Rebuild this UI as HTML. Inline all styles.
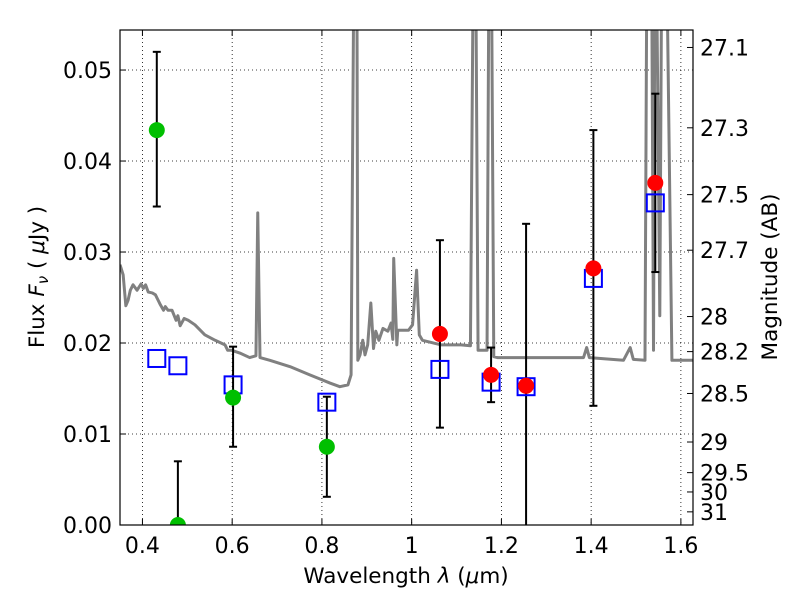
<!DOCTYPE html>
<html><head><meta charset="utf-8"><style>
body{margin:0;background:#fff;}
svg{display:block;font-family:"DejaVu Sans","Liberation Sans",sans-serif;}
</style></head><body>
<svg id="chart" width="800" height="600" viewBox="0 0 800 600" xmlns="http://www.w3.org/2000/svg">
<rect x="0" y="0" width="800" height="600" fill="#fff"/>
<g id="grid"></g>
<g id="plot"></g>
<g id="axes"></g>
<text x="406" y="583" font-size="21.5" text-anchor="middle">Wavelength  <tspan font-style="italic">λ</tspan> (<tspan font-style="italic">μ</tspan>m)</text>
<text transform="translate(44,277) rotate(-90)" font-size="21.5" text-anchor="middle">Flux  <tspan font-style="italic">F<tspan font-size="15" dy="4">ν</tspan></tspan><tspan dy="-4">  ( </tspan><tspan font-style="italic">μ</tspan>Jy )</text>
<text transform="translate(777,277) rotate(-90)" font-size="21.5" text-anchor="middle">Magnitude (AB)</text>
</svg>
<script>
const xTicks=[0.4,0.6,0.8,1.0,1.2,1.4,1.6];
const xTickLabels=["0.4","0.6","0.8","1","1.2","1.4","1.6"];
const yTicks=[0,0.01,0.02,0.03,0.04,0.05];
const yTickLabels=["0.00","0.01","0.02","0.03","0.04","0.05"];
const magTicks=[27.1,27.3,27.5,27.7,28,28.2,28.5,29,29.5,30,31];
const magTickLabels=["27.1","27.3","27.5","27.7","28","28.2","28.5","29","29.5","30","31"];
const specWave=[0.35,0.357,0.363,0.368,0.373,0.379,0.388,0.397,0.402,0.407,0.413,0.422,0.429,0.435,0.44,0.447,0.451,0.457,0.466,0.475,0.479,0.484,0.493,0.502,0.517,0.539,0.562,0.584,0.59,0.599,0.617,0.639,0.653,0.657,0.662,0.684,0.729,0.773,0.818,0.84,0.858,0.865,0.871,0.878,0.88,0.885,0.891,0.896,0.902,0.909,0.915,0.92,0.927,0.936,0.947,0.954,0.958,0.96,0.967,0.969,0.971,0.993,1.002,1.011,1.017,1.024,1.04,1.065,1.11,1.131,1.137,1.143,1.148,1.168,1.172,1.178,1.183,1.191,1.204,1.226,1.293,1.383,1.39,1.396,1.472,1.487,1.494,1.52,1.524,1.535,1.539,1.542,1.546,1.553,1.557,1.561,1.569,1.58,1.587,1.591,1.626];
const specFlux=[0.0286,0.0275,0.0241,0.0247,0.0258,0.0264,0.0258,0.0265,0.026,0.0264,0.0256,0.0255,0.0253,0.0247,0.0242,0.0236,0.024,0.0236,0.0236,0.0225,0.023,0.0219,0.0227,0.0225,0.022,0.0209,0.0203,0.0198,0.0192,0.0192,0.0189,0.0184,0.0186,0.0343,0.0184,0.0181,0.0174,0.0165,0.0156,0.0152,0.0154,0.0165,0.06,0.06,0.0181,0.0187,0.0203,0.0187,0.0198,0.0244,0.0194,0.0213,0.0203,0.0216,0.0213,0.0222,0.0204,0.0293,0.0198,0.0214,0.0214,0.0214,0.022,0.028,0.0209,0.0203,0.0201,0.0198,0.0198,0.0197,0.06,0.06,0.0192,0.0192,0.06,0.06,0.0185,0.0184,0.0184,0.0184,0.0184,0.0184,0.0195,0.0184,0.0181,0.0195,0.0182,0.0181,0.06,0.06,0.0192,0.06,0.06,0.023,0.06,0.06,0.06,0.0181,0.0181,0.0181,0.0181];
const greenWave=[0.432,0.479,0.602,0.811];
const greenFlux=[0.0434,0.0,0.014,0.0086];
const greenErrHi=[0.052,0.007,0.0196,0.0141];
const greenErrLo=[0.035,-0.01,0.0086,0.0031];
const redWave=[1.063,1.177,1.255,1.405,1.543];
const redFlux=[0.021,0.0165,0.0153,0.0282,0.0376];
const redErrHi=[0.0313,0.0195,0.0331,0.0434,0.0474];
const redErrLo=[0.0107,0.0135,-0.01,0.0131,0.0278];
const modelWave=[0.432,0.479,0.602,0.811,1.063,1.177,1.255,1.405,1.543];
const modelFlux=[0.0183,0.0175,0.0154,0.0135,0.0171,0.0157,0.0152,0.0271,0.0354];

const L=120,R=693,T=30,B=525;
const xMin=0.35,xMax=1.627,yMin=0,yMax=0.0544;
const X=v=>L+(v-xMin)/(xMax-xMin)*(R-L);
const Y=v=>B-(v-yMin)/(yMax-yMin)*(B-T);
const magToFlux=m=>Math.pow(10,(23.9-m)/2.5);
const NS="http://www.w3.org/2000/svg";
function mk(tag,attrs,parent){const e=document.createElementNS(NS,tag);for(const k in attrs)e.setAttribute(k,attrs[k]);parent.appendChild(e);return e;}
const grid=document.getElementById('grid'),plot=document.getElementById('plot'),axes=document.getElementById('axes');

const defs=mk('defs',{},plot);
const cp=mk('clipPath',{id:'clip'},defs);
mk('rect',{x:L,y:T,width:R-L,height:B-T},cp);
plot.setAttribute('clip-path','url(#clip)');

xTicks.forEach((t,i)=>{
  const gl=mk('line',{x1:X(t),x2:X(t),y1:T,y2:B,stroke:'#000','stroke-width':0.8,'stroke-dasharray':'1,3'},grid);
  
  
  mk('line',{x1:X(t),x2:X(t),y1:B,y2:B-6,stroke:'#000','stroke-width':1},axes);
  mk('line',{x1:X(t),x2:X(t),y1:T,y2:T+6,stroke:'#000','stroke-width':1},axes);
  const lb=mk('text',{x:X(t),y:B+28,'font-size':22,'text-anchor':'middle'},axes);
  lb.textContent=xTickLabels[i];
  
  
});
yTicks.forEach((t,i)=>{
  const gl=mk('line',{x1:L,x2:R,y1:Y(t),y2:Y(t),stroke:'#000','stroke-width':0.8,'stroke-dasharray':'1,3'},grid);
  
  
  mk('line',{x1:L,x2:L+6,y1:Y(t),y2:Y(t),stroke:'#000','stroke-width':1},axes);
  const lb=mk('text',{x:L-8,y:Y(t)+8,'font-size':22,'text-anchor':'end'},axes);
  lb.textContent=yTickLabels[i];
  
  
});
magTicks.forEach((m,i)=>{
  const y=Y(magToFlux(m));
  mk('line',{x1:R,x2:R-6,y1:y,y2:y,stroke:'#000','stroke-width':1},axes);
  const lb=mk('text',{x:R+7,y:y+8,'font-size':22,'text-anchor':'start'},axes);
  lb.textContent=magTickLabels[i];
  
  
});

const sp=mk('polyline',{points:specWave.map((w,i)=>X(w)+','+Y(specFlux[i])).join(' '),fill:'none',stroke:'#808080','stroke-width':3,'stroke-linejoin':'round'},plot);



function errbar(w,hi,lo){
  const g=mk('g',{stroke:'#000','stroke-width':2},plot);
  
  
  const x=X(w);
  mk('line',{x1:x,x2:x,y1:Y(hi),y2:Y(lo)},g);
  mk('line',{x1:x-4,x2:x+4,y1:Y(hi),y2:Y(hi)},g);
  mk('line',{x1:x-4,x2:x+4,y1:Y(lo),y2:Y(lo)},g);
}
greenWave.forEach((w,i)=>errbar(w,greenErrHi[i],greenErrLo[i]));
redWave.forEach((w,i)=>errbar(w,redErrHi[i],redErrLo[i]));
modelWave.forEach((w,i)=>{
  const s=mk('rect',{x:X(w)-8.5,y:Y(modelFlux[i])-8.5,width:17,height:17,fill:'none',stroke:'#0000ff','stroke-width':2},plot);
  
  
});
greenWave.forEach((w,i)=>{
  const c=mk('circle',{cx:X(w),cy:Y(greenFlux[i]),r:8,fill:'#00bf00'},plot);
  
  
});
redWave.forEach((w,i)=>{
  const c=mk('circle',{cx:X(w),cy:Y(redFlux[i]),r:8,fill:'#ff0000'},plot);
  
  
});
const fr=mk('rect',{x:L,y:T,width:R-L,height:B-T,fill:'none',stroke:'#000','stroke-width':1.2},axes);


</script>
</body></html>
